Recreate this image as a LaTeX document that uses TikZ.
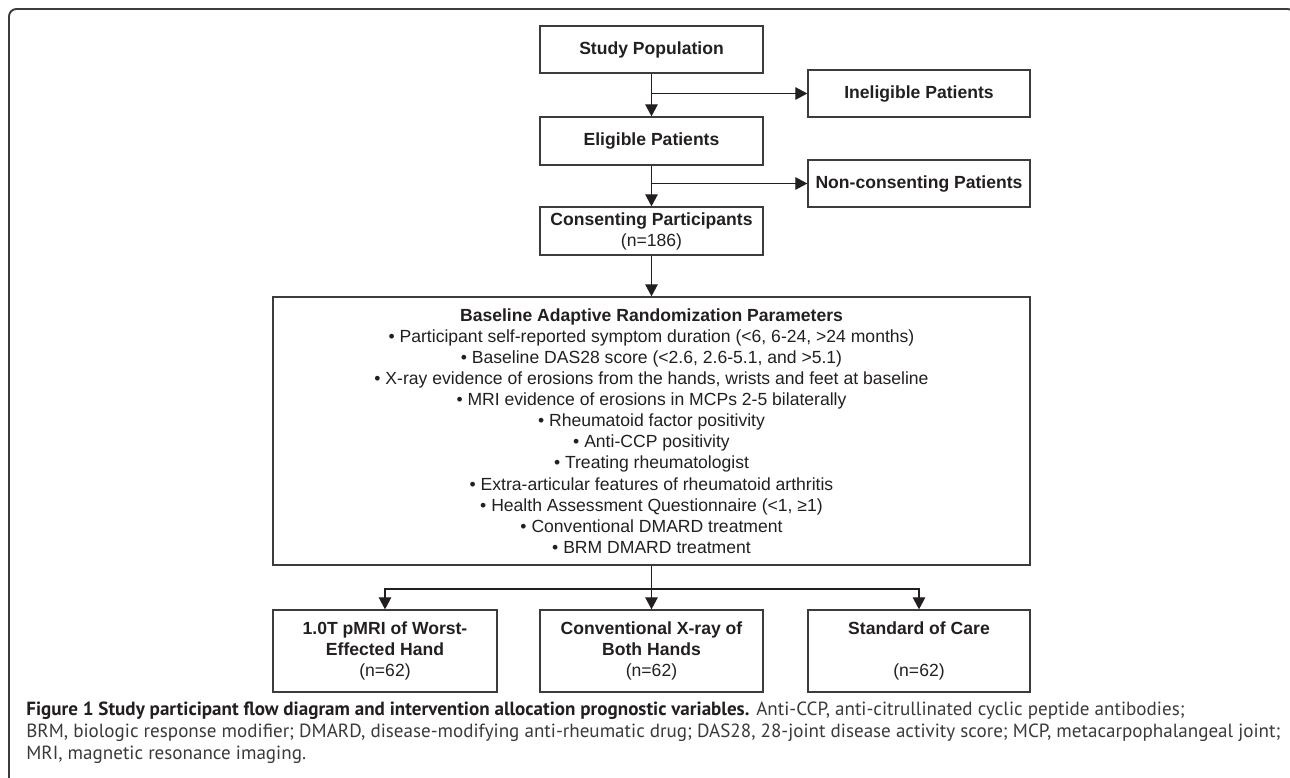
\documentclass[tikz,border=0pt]{standalone}
\usepackage{fontspec}
\setmainfont{Liberation Sans}
\newfontfamily\capfont{PT Sans}
\usepackage{tikz}
\usetikzlibrary{arrows.meta, positioning, calc}
\definecolor{ink}   {HTML}{231F20}
\definecolor{rule}  {HTML}{3C3C3C}
\definecolor{muted} {HTML}{3A3A3A}

\tikzset{
  stagebox/.style={draw=rule, line width=0.75pt, text=ink, align=center,
    inner sep=0pt, font=\fontsize{10}{12}\selectfont},
  flow/.style={draw=ink, line width=0.6pt,
    -{Triangle[length=0.24cm, width=0.25cm]}},
}

\begin{document}
\begin{tikzpicture}
    \useasboundingbox (0, 0) rectangle (25.8, -15.56);

    % --- outer frame of the figure panel ------------------------------------
    \draw[rule, line width=1.1pt, rounded corners=0.15cm]
      (0.18, -16.0) -- (0.18, -0.18) -- (25.9, -0.18) -- (25.9, -0.6);

    % --- enrolment column ----------------------------------------------------
    \node[stagebox, minimum width=4.46cm, minimum height=0.94cm] (study)
      at (13.03, -0.99) {\textbf{Study Population}};
    \node[stagebox, minimum width=4.46cm, minimum height=0.96cm] (elig)
      at (13.03, -2.82) {\textbf{Eligible Patients}};
    \node[stagebox, minimum width=4.46cm, minimum height=0.96cm] (cons)
      at (13.03, -4.62) {\textbf{Consenting Participants}\\(n=186)};

    % --- exclusions to the right ---------------------------------------------
    \node[stagebox, minimum width=4.44cm, minimum height=0.94cm] (inelig)
      at (18.38, -1.87) {\textbf{Ineligible Patients}};
    \node[stagebox, minimum width=4.44cm, minimum height=0.94cm] (noncons)
      at (18.38, -3.67) {\textbf{Non-consenting Patients}};

    % --- randomization parameters --------------------------------------------
    \node[stagebox, minimum width=15.14cm, minimum height=5.36cm] (params)
      at (13.03, -8.62)
      {\textbf{Baseline Adaptive Randomization Parameters}\\
       • Participant self-reported symptom duration (<6, 6-24, >24 months)\\
       • Baseline DAS28 score (<2.6, 2.6-5.1, and >5.1)\\
       • X-ray evidence of erosions from the hands, wrists and feet at baseline\\
       • MRI evidence of erosions in MCPs 2-5 bilaterally\\
       • Rheumatoid factor positivity\\
       • Anti-CCP positivity\\
       • Treating rheumatologist\\
       • Extra-articular features of rheumatoid arthritis\\
       • Health Assessment Questionnaire (<1, ≥1)\\
       • Conventional DMARD treatment\\
       • BRM DMARD treatment};

    % --- the three arms ------------------------------------------------------
    \node[stagebox, minimum width=4.48cm, minimum height=1.64cm] (pmri)
      at (7.70, -13.02) {\textbf{1.0T pMRI of Worst-}\\\textbf{Effected Hand}\\(n=62)};
    \node[stagebox, minimum width=4.46cm, minimum height=1.64cm] (xray)
      at (13.03, -13.02) {\textbf{Conventional X-ray of}\\\textbf{Both Hands}\\(n=62)};
    \node[stagebox, minimum width=4.44cm, minimum height=1.64cm] (care)
      at (18.38, -13.02) {\textbf{Standard of Care}\\\mbox{}\\(n=62)};

    % --- connectors ----------------------------------------------------------
    \draw[flow] (study) -- (elig);
    \draw[flow] (study.south |- inelig.west) -- (inelig.west);
    \draw[flow] (elig) -- (cons);
    \draw[flow] (elig.south |- noncons.west) -- (noncons.west);
    \draw[flow] (cons) -- (params);

    \coordinate (split) at (13.03, -11.78);
    \draw[flow] (params) -- (xray);
    \draw[flow] (split) -| (pmri.north);
    \draw[flow] (split) -| (care.north);

    % --- caption ---------------------------------------------------------------
    \node[anchor=north west, inner sep=0pt, text=muted, align=left,
      font=\capfont\fontsize{10.85}{12.5}\selectfont] (caption) at (0.52, -14.03)
      {\textbf{\color{ink}Figure 1 Study participant flow diagram and intervention allocation prognostic variables.} Anti-CCP, anti-citrullinated cyclic peptide antibodies;\\
       BRM, biologic response modifier; DMARD, disease-modifying anti-rheumatic drug; DAS28, 28-joint disease activity score; MCP, metacarpophalangeal joint;\\
       MRI, magnetic resonance imaging.};
  \end{tikzpicture}
\end{document}
